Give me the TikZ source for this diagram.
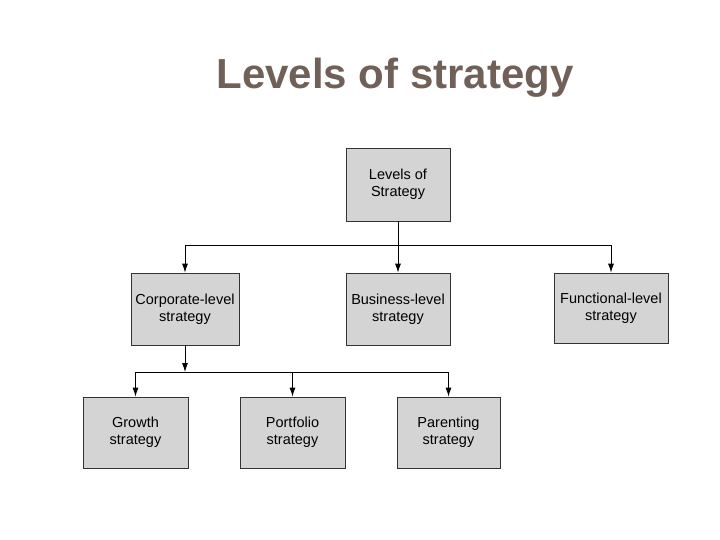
\documentclass[tikz,border=0pt]{standalone}
\usepackage{fontspec}
\setmainfont{Liberation Sans}
\usetikzlibrary{arrows.meta}
\definecolor{boxgray}{RGB}{212,212,212}
\definecolor{titlec}{RGB}{112,96,88}
\begin{document}
\begin{tikzpicture}[x=1pt,y=-1pt,
  box/.style={draw=black!80,fill=boxgray,line width=0.8pt,align=center,font=\fontsize{14.5}{17}\selectfont,inner sep=0pt},
  arr/.style={-{Latex[length=9pt,width=6pt]},line width=0.8pt},
  ln/.style={line width=0.8pt}]
\useasboundingbox (0,0) rectangle (720,540);
\node[text=titlec,font=\fontsize{42}{48}\selectfont\bfseries] (title) at (395,78) {Levels of strategy};
\node[box,minimum width=104pt,minimum height=73pt] (top) at (398,184.5) {Levels of\\Strategy};
\node[box,minimum width=108pt,minimum height=72pt] (corp) at (185,309) {Corporate-level\\strategy};
\node[box,minimum width=104pt,minimum height=72pt] (bus) at (398,309) {Business-level\\strategy};
\node[box,minimum width=114pt,minimum height=70pt] (func) at (611,308) {Functional-level\\strategy};
\node[box,minimum width=105pt,minimum height=71pt] (gro) at (135.5,432.5) {Growth\\strategy};
\node[box,minimum width=105pt,minimum height=71pt] (port) at (292.5,432.5) {Portfolio\\strategy};
\node[box,minimum width=103pt,minimum height=71pt] (par) at (448.5,432.5) {Parenting\\strategy};
\coordinate (j1) at (398,245);
\coordinate (j2) at (185,372);
\draw[ln] (top.south) -- (j1);
\draw[ln] (corp.north |- j1) -- (func.north |- j1);
\draw[arr] (j1) -- (bus.north);
\draw[arr] (corp.north |- j1) -- (corp.north);
\draw[arr] (func.north |- j1) -- (func.north);
\draw[arr] (corp.south) -- (j2);
\draw[ln] (gro.north |- j2) -- (par.north |- j2);
\draw[arr] (gro.north |- j2) -- (gro.north);
\draw[arr] (port.north |- j2) -- (port.north);
\draw[arr] (par.north |- j2) -- (par.north);
\end{tikzpicture}
\end{document}
